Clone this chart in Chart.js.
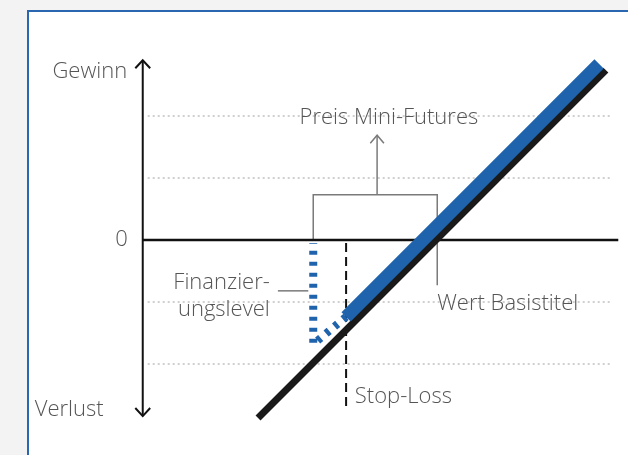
<!DOCTYPE html>
<html>
<head>
<meta charset="utf-8">
<script src="https://cdn.jsdelivr.net/npm/chart.js@4.4.1/dist/chart.umd.min.js"></script>
<style>
    body { margin: 0; background: #f3f3f3; }
    #panel {
        position: absolute; left: 27px; top: 10px;
        width: 640px; height: 470px;
        background: #ffffff; border: 2px solid #2a67b0;
    }
    #payoff { position: absolute; left: 0; top: 0; }
</style>
</head>
<body>
<div id="panel"></div>
<canvas id="payoff" width="628" height="455"></canvas>
<script>
// chart units: one grid step = one unit, underlying break-even at x = 0
const gridValues = [-2, -1, 1, 2];
const axisX = -4.73;
const axisTop = 2.90;
const axisBottom = -2.84;
const zeroLineEnd = 2.94;
const gridFrom = -4.65;
const gridTo = 2.84;

const underlyingX = [-2.87, 2.74];
const underlyingY = [-2.87, 2.74];

const stopLoss = -1.45;
const financingLevel = -1.98;
const miniFutureX = [stopLoss, 2.63];
const miniFutureY = [-1.24, 2.84];
const knockOutX = [stopLoss, financingLevel, financingLevel];
const knockOutY = [-1.24, -1.68, -0.05];
const stopLossY = [-0.05, -2.74];

const bracketTop = 0.73;
const bracketMid = -0.95;
const priceArrowTip = 1.69;
const wertLineBottom = -0.73;
const leaderX = [-2.55, -2.06];
const leaderY = -0.82;

const labels = ["Gewinn", "0", "Verlust", "Preis Mini-Futures", "Finanzier-", "ungslevel", "Wert Basistitel", "Stop-Loss"];
const labelX = [-4.98, -4.97, -5.36, -0.76, -2.68, -2.68, 0.02, -1.31];
const labelY = [2.71, 0, -2.74, 1.98, -0.69, -1.13, -1.03, -2.52];
const labelAlign = ["right", "right", "right", "center", "right", "right", "left", "left"];

const pts = (xs, ys) => xs.map((x, i) => ({ x: x, y: ys[i] }));

function line(data, color, width, extra) {
    return Object.assign({
        data: data,
        borderColor: color,
        borderWidth: width,
        pointRadius: 0,
        tension: 0,
        fill: false,
        borderCapStyle: "butt",
        borderJoinStyle: "miter"
    }, extra || {});
}

const datasets = [];

gridValues.forEach(v => {
    datasets.push(line(pts([gridFrom, gridTo], [v, v]), "#a0a0a0", 1, { borderDash: [2, 3], order: 9 }));
});

datasets.push(line(pts([axisX, zeroLineEnd], [0, 0]), "#111111", 2.5, { order: 5 }));
datasets.push(line(pts([axisX, axisX], [axisBottom, axisTop]), "#111111", 2, { order: 5 }));
datasets.push(line(pts([axisX - 0.12, axisX, axisX + 0.12], [axisTop - 0.13, axisTop, axisTop - 0.13]), "#111111", 2, { order: 5 }));
datasets.push(line(pts([axisX - 0.12, axisX, axisX + 0.12], [axisBottom + 0.13, axisBottom, axisBottom + 0.13]), "#111111", 2, { order: 5 }));

// bracket "Preis Mini-Futures"
datasets.push(line(pts([financingLevel, financingLevel, 0.02, 0.02], [0, bracketTop, bracketTop, wertLineBottom]), "#7a7a7a", 1.5, { order: 6 }));
datasets.push(line(pts([bracketMid, bracketMid], [bracketTop, priceArrowTip]), "#7a7a7a", 1.5, { order: 6 }));
datasets.push(line(pts([bracketMid - 0.11, bracketMid, bracketMid + 0.11], [priceArrowTip - 0.13, priceArrowTip, priceArrowTip - 0.13]), "#7a7a7a", 1.5, { order: 6 }));
datasets.push(line(pts(leaderX, [leaderY, leaderY]), "#7a7a7a", 1.5, { order: 6 }));

// stop-loss
datasets.push(line(pts([stopLoss, stopLoss], stopLossY), "#111111", 2, { borderDash: [9, 5], order: 4 }));

// underlying and mini-future
datasets.push(line(pts(underlyingX, underlyingY), "#1a1a1a", 7, { order: 3 }));
datasets.push(line(pts(knockOutX, knockOutY), "#1f63ad", 8, { borderDash: [4, 7], order: 2 }));
datasets.push(line(pts(miniFutureX, miniFutureY), "#1f63ad", 13, { order: 1 }));

const textPlugin = {
    id: "texts",
    afterDatasetsDraw(chart) {
        const ctx = chart.ctx;
        const xs = chart.scales.x;
        const ys = chart.scales.y;
        ctx.save();
        ctx.fillStyle = "#555555";
        ctx.font = '300 22px "Open Sans", sans-serif';
        ctx.textBaseline = "middle";
        labels.forEach((t, i) => {
            ctx.textAlign = labelAlign[i];
            ctx.fillText(t, xs.getPixelForValue(labelX[i]), ys.getPixelForValue(labelY[i]));
        });
        ctx.restore();
    }
};

new Chart(document.getElementById("payoff"), {
    type: "line",
    data: { datasets: datasets },
    options: {
        responsive: false,
        animation: false,
        layout: { padding: 0 },
        plugins: { legend: { display: false }, tooltip: { enabled: false } },
        scales: {
            x: { type: "linear", display: false, min: -436 / 62, max: 192 / 62 },
            y: { type: "linear", display: false, min: -215 / 62, max: 240 / 62 }
        }
    },
    plugins: [textPlugin]
});
</script>
</body>
</html>
